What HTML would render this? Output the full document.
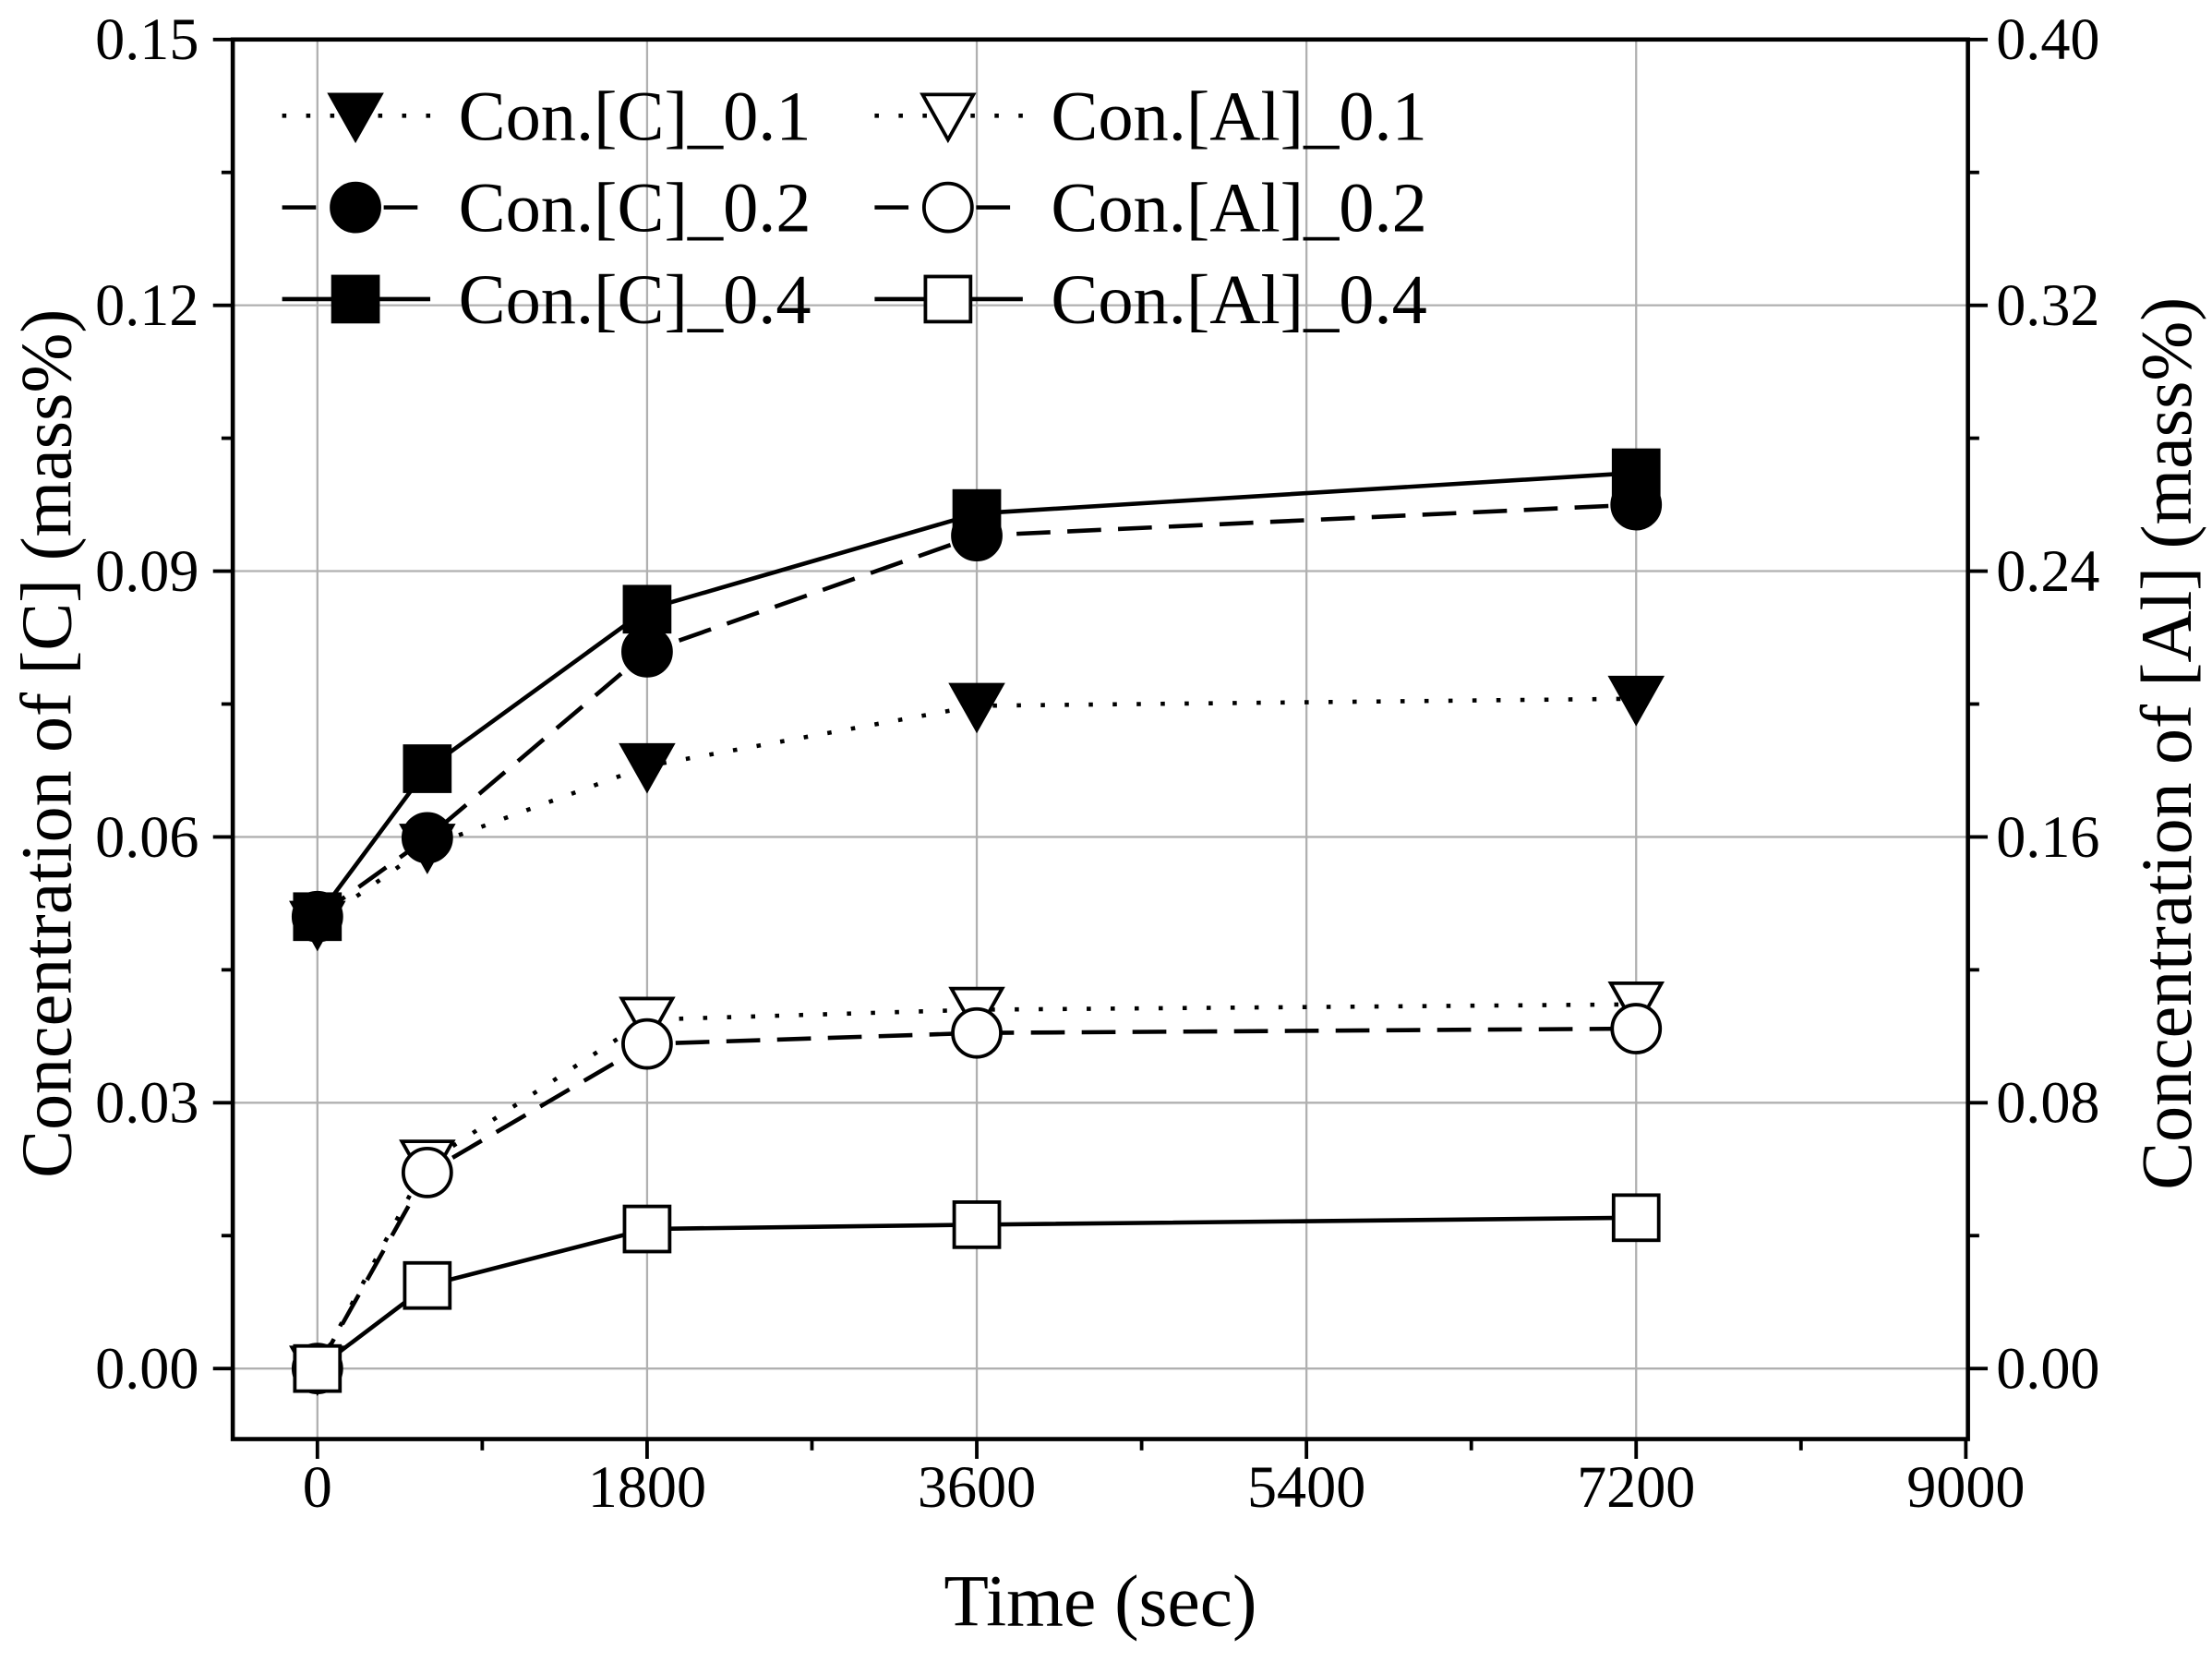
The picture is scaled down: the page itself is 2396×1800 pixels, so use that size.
<!DOCTYPE html>
<html><head><meta charset="utf-8"><style>html,body{margin:0;padding:0;background:#fff}svg{display:block}</style></head>
<body>
<svg id="chart" width="2396" height="1800" viewBox="0 0 1568 1178" preserveAspectRatio="none" xmlns="http://www.w3.org/2000/svg" font-family="'Liberation Serif', serif">
<g id="grid"></g>
<g id="axes"></g>
<g id="series"></g>
<g id="legend"></g>
</svg>
<script>
const times = [0, 600, 1800, 3600, 7200];
const cSeries01 = [0.0502, 0.0589, 0.0680, 0.0748, 0.0756];
const cSeries02 = [0.0510, 0.0599, 0.0809, 0.0940, 0.0975];
const cSeries04 = [0.0510, 0.0677, 0.0857, 0.0965, 0.1011];
const alSeries01 = [0.000, 0.062, 0.105, 0.108, 0.1096];
const alSeries02 = [0.000, 0.059, 0.0977, 0.101, 0.1023];
const alSeries04 = [0.000, 0.025, 0.042, 0.0433, 0.0454];
const xTicks = [0, 1800, 3600, 5400, 7200, 9000];
const yLeftTicks = [0.00, 0.03, 0.06, 0.09, 0.12, 0.15];
const yRightTicks = [0.00, 0.08, 0.16, 0.24, 0.32, 0.40];

const NS = "http://www.w3.org/2000/svg";
const L = 165, R = 1395, T = 28, B = 1020;
const X = v => 225 + v / 1800 * 233.7;
const YL = v => 970 - v / 0.03 * 188.4;
const YR = v => 970 - v / 0.08 * 188.4;
function mk(tag, attrs, parent) {
  const e = document.createElementNS(NS, tag);
  for (const k in attrs) e.setAttribute(k, attrs[k]);
  parent.appendChild(e);
  return e;
}
const grid = document.getElementById('grid'), axes = document.getElementById('axes'),
  series = document.getElementById('series'), legend = document.getElementById('legend');

xTicks.forEach(t => { if (t < 9000) { const g = mk('line', {x1: X(t), x2: X(t), y1: T, y2: B, stroke: '#b0b0b0', 'stroke-width': 1.5}, grid);
  
   } });
yLeftTicks.forEach(t => { if (t < 0.15) { const g = mk('line', {x1: L, x2: R, y1: YL(t), y2: YL(t), stroke: '#b0b0b0', 'stroke-width': 1.5}, grid);
  
   } });

const frame = mk('rect', {x: L, y: T, width: R - L, height: B - T, fill: 'none', stroke: '#000', 'stroke-width': 3}, axes);



for (let t = 0; t <= 9000; t += 900) {
  const major = t % 1800 === 0;
  mk('line', {x1: X(t), x2: X(t), y1: B, y2: B + (major ? 14 : 8), stroke: '#000', 'stroke-width': 2.5}, axes);
  if (major) {
    const tx = mk('text', {x: X(t), y: B + 48, 'font-size': 42, 'text-anchor': 'middle'}, axes);
    tx.textContent = String(t);
    
    
  }
}
for (let i = 0; i <= 10; i++) {
  const v = i * 0.015, major = i % 2 === 0;
  mk('line', {x1: L, x2: L - (major ? 14 : 8), y1: YL(v), y2: YL(v), stroke: '#000', 'stroke-width': 2.5}, axes);
  mk('line', {x1: R, x2: R + (major ? 14 : 8), y1: YL(v), y2: YL(v), stroke: '#000', 'stroke-width': 2.5}, axes);
}
yLeftTicks.forEach(v => {
  const tx = mk('text', {x: L - 24, y: YL(v) + 14, 'font-size': 42, 'text-anchor': 'end'}, axes);
  tx.textContent = v.toFixed(2);
  
  
});
yRightTicks.forEach(v => {
  const tx = mk('text', {x: R + 20, y: YR(v) + 14, 'font-size': 42, 'text-anchor': 'start'}, axes);
  tx.textContent = v.toFixed(2);
  
  
});
let tt = mk('text', {x: 780, y: 1152, 'font-size': 52, 'text-anchor': 'middle'}, axes);
tt.textContent = 'Time (sec)';


tt = mk('text', {x: 0, y: 0, 'font-size': 51, 'text-anchor': 'middle', transform: 'translate(50,527) rotate(-90)'}, axes);
tt.textContent = 'Concentration of [C] (mass%)';


tt = mk('text', {x: 0, y: 0, 'font-size': 51, 'text-anchor': 'middle', transform: 'translate(1553,527) rotate(-90)'}, axes);
tt.textContent = 'Concentration of [Al] (mass%)';



const dashes = {dot: '3,14', dash: '24,12', solid: 'none'};
function marker(shape, filled, cx, cy, parent) {
  const fill = filled ? '#000' : '#fff';
  const a = {fill: fill, stroke: '#000', 'stroke-width': 2.5};
  let m;
  if (shape === 'tri') m = mk('polygon', Object.assign({points: `${cx-18},${cy-15} ${cx+18},${cy-15} ${cx},${cy+17}`}, a), parent);
  else if (shape === 'circle') m = mk('circle', Object.assign({cx: cx, cy: cy, r: 17}, a), parent);
  else m = mk('rect', Object.assign({x: cx - 16, y: cy - 16, width: 32, height: 32}, a), parent);
  return m;
}
function drawSeries(name, vals, Yf, shape, filled, style) {
  const g = mk('g', {}, series);
  
  
  const pts = times.map((t, i) => X(t) + ',' + Yf(vals[i])).join(' ');
  const pl = mk('polyline', {points: pts, fill: 'none', stroke: '#000', 'stroke-width': 3, 'stroke-dasharray': dashes[style]}, g);
  
  
  times.forEach((t, i) => {
    const m = marker(shape, filled, X(t), Yf(vals[i]), g);
    
    
  });
}
drawSeries('al-0-1', alSeries01, YR, 'tri', false, 'dot');
drawSeries('al-0-2', alSeries02, YR, 'circle', false, 'dash');
drawSeries('al-0-4', alSeries04, YR, 'square', false, 'solid');
drawSeries('c-0-1', cSeries01, YL, 'tri', true, 'dot');
drawSeries('c-0-2', cSeries02, YL, 'circle', true, 'dash');
drawSeries('c-0-4', cSeries04, YL, 'square', true, 'solid');

const legendItems = [
  ['Con.[C]_0.1', 'tri', true, 'dot', 200, 82], ['Con.[Al]_0.1', 'tri', false, 'dot', 620, 82],
  ['Con.[C]_0.2', 'circle', true, 'dash', 200, 147], ['Con.[Al]_0.2', 'circle', false, 'dash', 620, 147],
  ['Con.[C]_0.4', 'square', true, 'solid', 200, 212], ['Con.[Al]_0.4', 'square', false, 'solid', 620, 212]
];
legendItems.forEach(it => {
  const g = mk('g', {}, legend);
  
  
  mk('line', {x1: it[4], x2: it[4] + 105, y1: it[5], y2: it[5], stroke: '#000', 'stroke-width': 3, 'stroke-dasharray': dashes[it[3]]}, g);
  marker(it[1], it[2], it[4] + 52, it[5], g);
  const tx = mk('text', {x: it[4] + 125, y: it[5] + 17, 'font-size': 50}, g);
  tx.textContent = it[0];
});
</script>
</body></html>
